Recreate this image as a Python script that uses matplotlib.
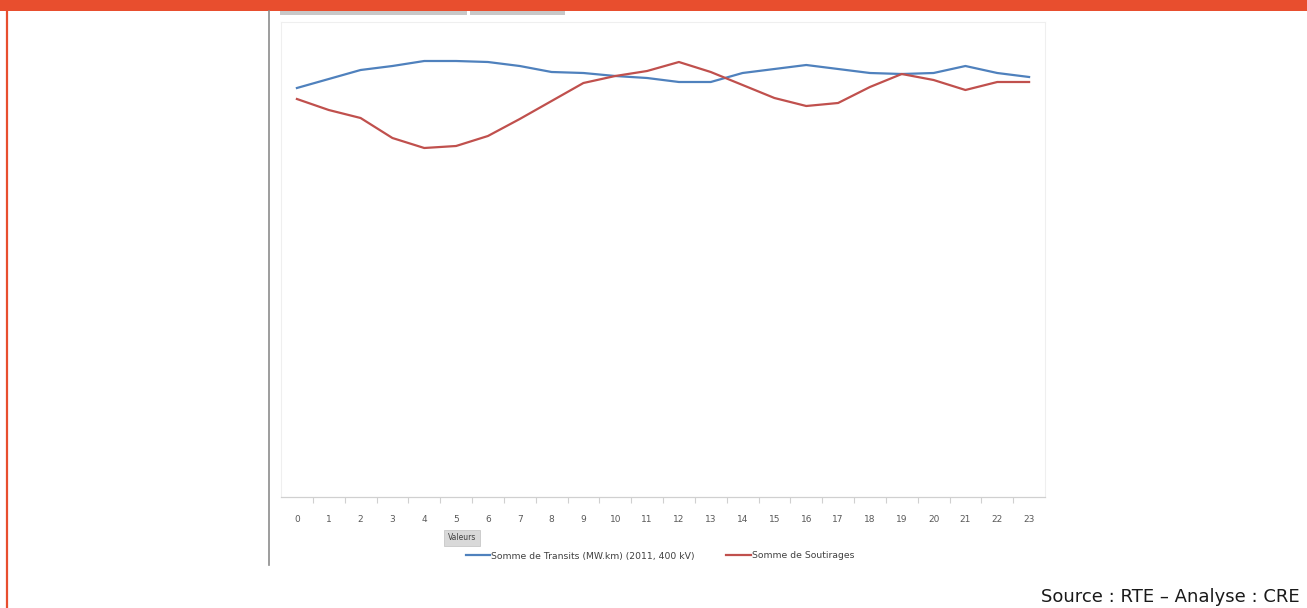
import matplotlib.pyplot as plt
from matplotlib.lines import Line2D
from matplotlib.patches import Rectangle

# Heures de la journée et profils (unités relatives)
heures = list(range(24))
transits = [409, 418, 427, 431, 436, 436, 435, 431, 425, 424, 421, 419,
            415, 415, 424, 428, 432, 428, 424, 423, 424, 431, 424, 420]
soutirages = [398, 387, 379, 359, 349, 351, 361, 378, 396, 414, 421, 426,
              435, 425, 412, 399, 391, 394, 410, 423, 417, 407, 415, 415]

label_transits = "Somme de Transits (MW.km) (2011, 400 kV)"
label_soutirages = "Somme de Soutirages"

ORANGE = "#E84E2E"
BLEU = "#4F81BD"
ROUGE = "#C0504D"

W, H = 1307, 608
fig = plt.figure(figsize=(W / 100, H / 100), dpi=100)

# Décor de la page : bandeau orange, filet gauche, séparateur gris
fig.add_artist(Rectangle((0, 1 - 11 / H), 1, 11 / H, transform=fig.transFigure,
                         facecolor=ORANGE, edgecolor="none"))
fig.add_artist(Line2D([6.5 / W, 6.5 / W], [0, 1], transform=fig.transFigure,
                      color=ORANGE, linewidth=1.6))
fig.add_artist(Line2D([268.5 / W, 268.5 / W], [1 - 565 / H, 1 - 11 / H],
                      transform=fig.transFigure, color="#8C8C8C", linewidth=1.2))
# ombres des boutons du graphique croisé
for x0, x1 in [(280, 467), (470, 565)]:
    fig.add_artist(Rectangle((x0 / W, 1 - 15 / H), (x1 - x0) / W, 4 / H,
                             transform=fig.transFigure, facecolor="#C8C8C8",
                             edgecolor="none"))

ax = fig.add_axes([281 / W, 1 - 497 / H, (1045 - 281) / W, (497 - 22) / H])
ax.plot(heures, transits, color=BLEU, linewidth=1.6, label=label_transits)
ax.plot(heures, soutirages, color=ROUGE, linewidth=1.6, label=label_soutirages)

ax.set_xlim(-0.5, 23.5)
ax.set_ylim(0, 475)
ax.set_yticks([])
ax.set_xticks(heures)
ax.set_xticklabels([str(h) for h in heures], fontsize=6.5, color="#595959")
ax.set_xticks([h + 0.5 for h in heures[:-1]], minor=True)
ax.tick_params(axis="x", which="major", length=0, pad=13)
ax.tick_params(axis="x", which="minor", length=4, color="#D0D0D0", width=0.8)

for side in ["top", "left", "right"]:
    ax.spines[side].set_color("#EFEFEF")
    ax.spines[side].set_linewidth(0.8)
ax.spines["bottom"].set_color("#D0D0D0")
ax.spines["bottom"].set_linewidth(0.9)

# bouton "Valeurs"
fig.text(462 / W, 1 - 538 / H, "Valeurs", fontsize=5.5, color="#404040",
         ha="center", va="center",
         bbox=dict(boxstyle="square,pad=0.45", facecolor="#D9D9D9", edgecolor="#C0C0C0",
                   linewidth=0.5))

fig.legend(loc="center", bbox_to_anchor=(660 / W, 1 - 556 / H), ncol=2,
           frameon=False, fontsize=6.7, handlelength=2.6, handletextpad=0.15,
           columnspacing=3.4, labelcolor="#404040")

fig.text(1300 / W, 1 - 597 / H, "Source : RTE \u2013 Analyse : CRE", fontsize=13,
         ha="right", va="center", color="#1A1A1A")

fig.savefig("out.png", dpi=100)
